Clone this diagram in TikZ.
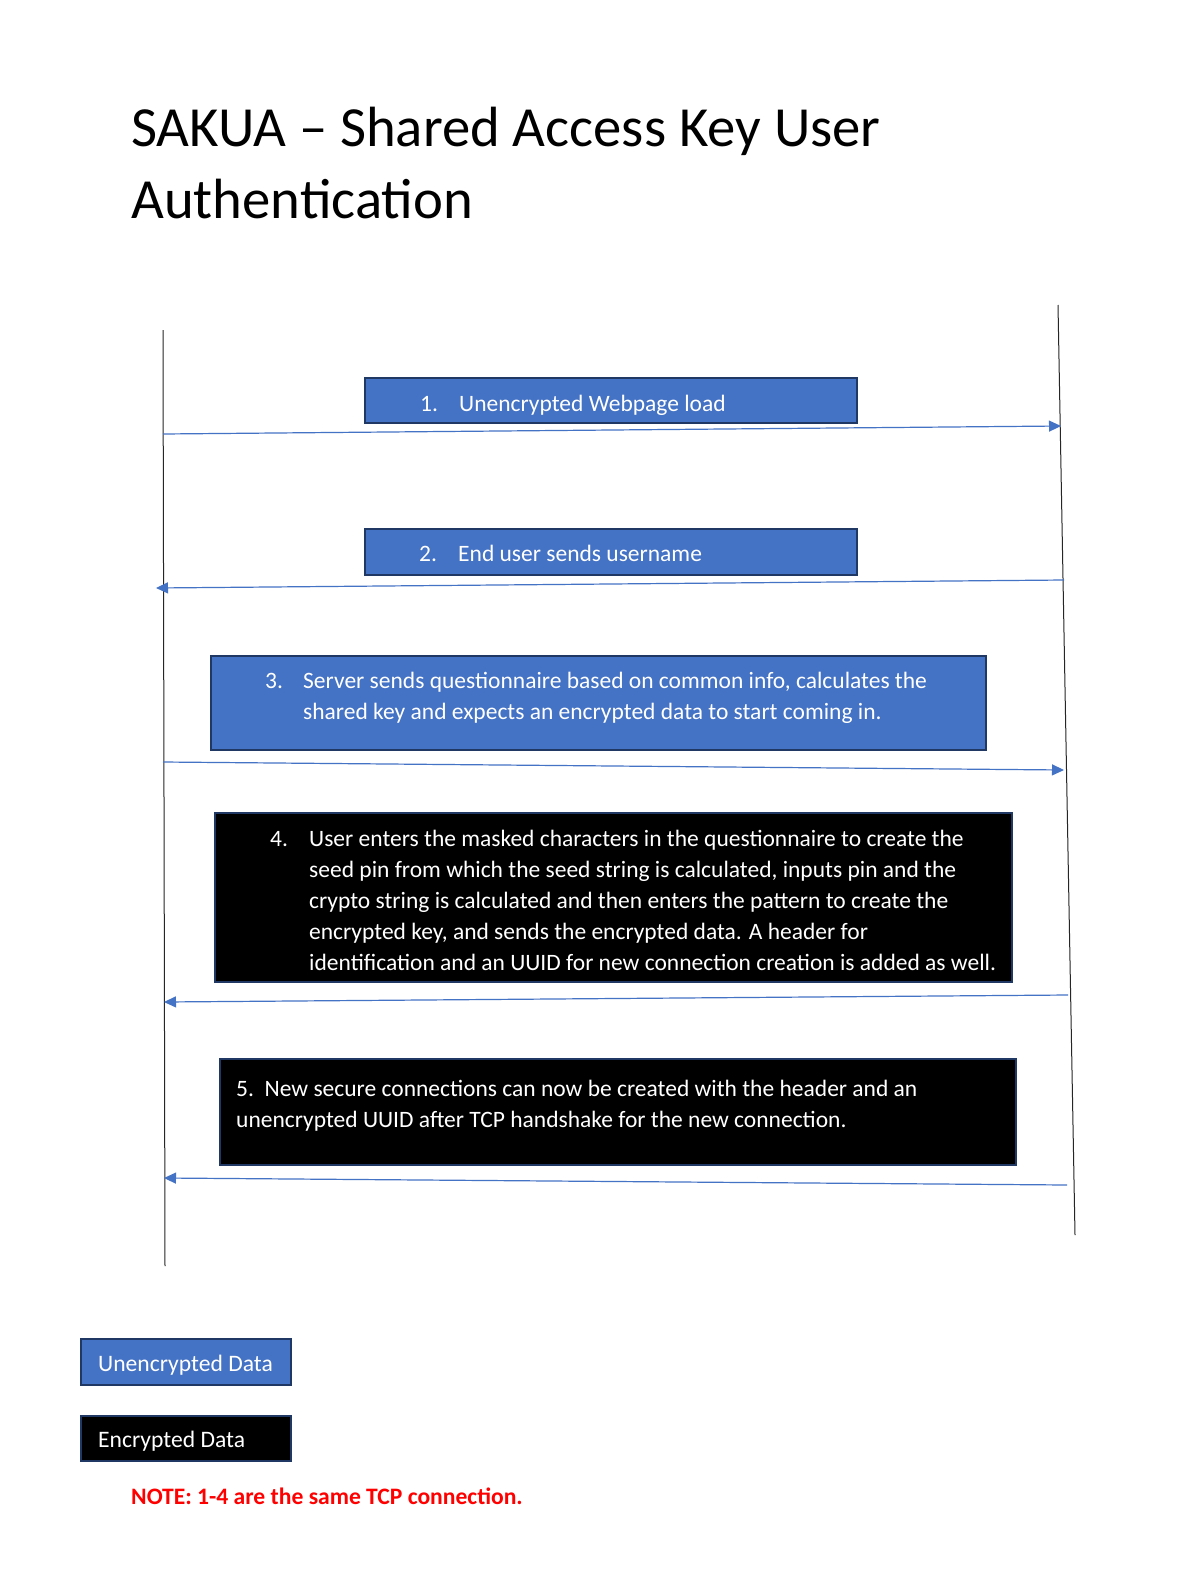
\documentclass[tikz,border=0pt]{standalone}
\usepackage{fontspec}
\setmainfont{Carlito}
\usetikzlibrary{arrows.meta,positioning}
\definecolor{msgblue}{HTML}{4472C4}
\definecolor{msgedge}{HTML}{1F3864}
\tikzset{
  lifeline/.style={line width=1pt,black!85},
  msgline/.style={line width=1.2pt,msgblue,-{Triangle[length=12pt,width=11pt]}},
  plainbox/.style={draw=msgedge,line width=2pt,fill=msgblue,anchor=north west,inner sep=0pt},
  cryptbox/.style={draw=msgedge,line width=2pt,fill=black,anchor=north west,inner sep=0pt},
  msgtext/.style={text=white,font=\fontsize{23.5}{31}\selectfont,align=left,inner sep=0pt,anchor=base west},
  legendtext/.style={text=white,font=\fontsize{23.6}{27}\selectfont,inner sep=0pt,anchor=base west}
}
\begin{document}
\begin{tikzpicture}[x=1pt,y=-1pt]
	\useasboundingbox[fill=white] (0,0) rectangle (1183,1571);
	% title (base anchor sits on the last line)
	\node[font=\fontsize{56.7}{72}\selectfont,align=left,inner sep=0pt,anchor=base west] (title) at (131,218)
		{SAKUA -- Shared Access Key User\\Authentication};

	% lifelines
	\coordinate (ClientTop) at (163,330);
	\coordinate (ClientBot) at (165,1266);
	\coordinate (ServerTop) at (1058,305);
	\coordinate (ServerBot) at (1075,1235);
	\draw [lifeline] (ClientTop) -- (ClientBot);
	\draw [lifeline] (ServerTop) -- (ServerBot);

	% message boxes
	\node [plainbox,minimum width=492pt,minimum height=45pt] (BoxOne) at (364,377) {};
	\node [msgtext] (NumOne) at (420,411) {1.};
	\node [msgtext] (TxtOne) at (459,411) {Unencrypted Webpage load};

	\node [plainbox,minimum width=492pt,minimum height=46pt] (BoxTwo) at (364,528) {};
	\node [msgtext] (NumTwo) at (419,561) {2.};
	\node [msgtext] (TxtTwo) at (458,561) {End user sends username};

	\node [plainbox,minimum width=775pt,minimum height=94pt] (BoxThree) at (210,655) {};
	\node [msgtext] (NumThree) at (265,688) {3.};
	\node [msgtext] (TxtThree) at (303,719)
		{Server sends questionnaire based on common info, calculates the\\
		shared key and expects an encrypted data to start coming in.};

	\node [cryptbox,minimum width=797pt,minimum height=169pt] (BoxFour) at (214,812) {};
	\node [msgtext] (NumFour) at (270,846) {4.};
	\node [msgtext] (TxtFour) at (309,970)
		{User enters the masked characters in the questionnaire to create the\\
		seed pin from which the seed string is calculated, inputs pin and the\\
		crypto string is calculated and then enters the pattern to create the\\
		encrypted key, and sends the encrypted data. A header for\\
		identification and an UUID for new connection creation is added as well.};

	\node [cryptbox,minimum width=796pt,minimum height=106pt] (BoxFive) at (219,1058) {};
	\node [msgtext] (TxtFive) at (236,1127)
		{5.\ \ New secure connections can now be created with the header and an\\
		unencrypted UUID after TCP handshake for the new connection.};

	% messages
	\coordinate (ClientOne) at (163,434);
	\coordinate (ServerOne) at (1061,426);
	\coordinate (ServerTwo) at (1064,580);
	\coordinate (ClientTwo) at (156,588);
	\coordinate (ClientThree) at (163,762);
	\coordinate (ServerThree) at (1064,770);
	\coordinate (ServerFour) at (1068,995);
	\coordinate (ClientFour) at (164,1002);
	\coordinate (ServerFive) at (1067,1185);
	\coordinate (ClientFive) at (164,1178);
	\draw [msgline] (ClientOne) -- (ServerOne);
	\draw [msgline] (ServerTwo) -- (ClientTwo);
	\draw [msgline] (ClientThree) -- (ServerThree);
	\draw [msgline] (ServerFour) -- (ClientFour);
	\draw [msgline] (ServerFive) -- (ClientFive);

	% legend
	\node [plainbox,minimum width=210pt,minimum height=46pt] (KeyPlain) at (80,1338) {};
	\node [legendtext] (KeyPlainTxt) at (98,1371) {Unencrypted Data};
	\node [cryptbox,minimum width=210pt,minimum height=45pt] (KeyCrypt) at (80,1415) {};
	\node [legendtext] (KeyCryptTxt) at (98,1447) {Encrypted Data};
	\node [text=red,font=\bfseries\fontsize{23.6}{26}\selectfont,inner sep=0pt,anchor=base west] (Note) at (131,1504)
		{NOTE: 1-4 are the same TCP connection.};
\end{tikzpicture}
\end{document}
